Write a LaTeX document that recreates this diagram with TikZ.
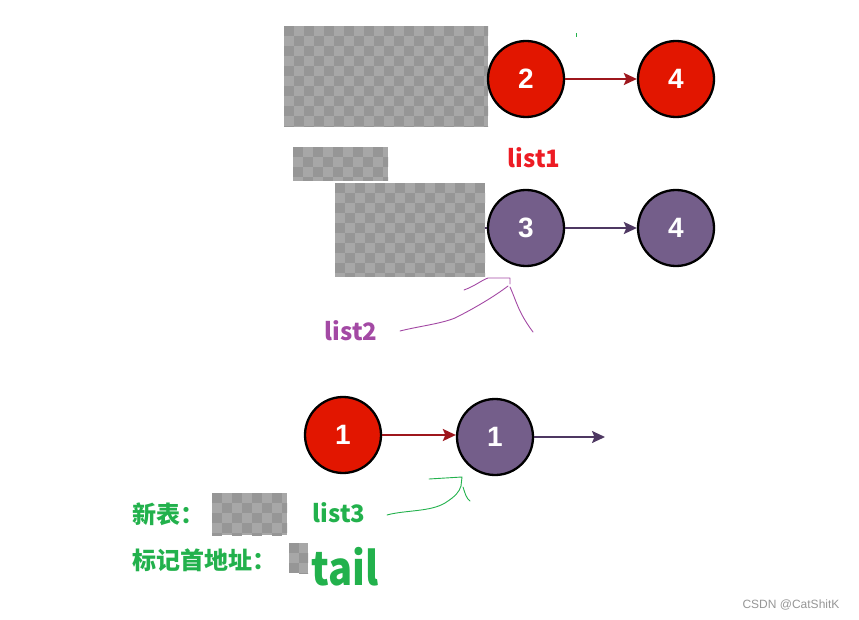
\documentclass[tikz,border=0pt]{standalone}
\usepackage{fontspec}
\usetikzlibrary{arrows.meta}
\newfontfamily\cjk{Noto Sans CJK SC}
\newfontfamily\numf{Liberation Sans}
\definecolor{nodered}{RGB}{226,22,0}
\definecolor{nodepurp}{RGB}{116,94,138}
\definecolor{arrred}{RGB}{158,22,28}
\definecolor{arrpurp}{RGB}{78,56,98}
\definecolor{msred}{RGB}{237,28,36}
\definecolor{mspurp}{RGB}{163,73,164}
\definecolor{msgreen}{RGB}{34,177,76}
\definecolor{chkL}{RGB}{167,167,167}
\definecolor{chkD}{RGB}{150,150,150}
\definecolor{wm}{RGB}{150,150,150}
\newcommand\chkbox[4]{%
  \begin{scope}
    \clip (#1,#2) rectangle (#3,#4);
    \fill[chkL] (#1,#2) rectangle (#3,#4);
    \foreach \i in {0,...,20} {
      \foreach \j in {0,...,10} {
        \pgfmathtruncatemacro\pp{mod(\i+\j,2)}
        \ifnum\pp=0 \fill[chkD] ({#1+10*\i},{#2+10*\j}) rectangle ++(10,10);\fi
      }
    }
  \end{scope}}
\tikzset{
  lnode/.style={circle, draw=black, line width=2.3pt, minimum size=76pt, inner sep=0pt,
    text=white, font=\numf\bfseries\fontsize{28}{28}\selectfont},
  rnode/.style={lnode, fill=nodered},
  pnode/.style={lnode, fill=nodepurp},
  redarr/.style={draw=arrred, line width=2pt, -{Stealth[length=13pt,width=12pt,inset=2.5pt]}},
  purparr/.style={draw=arrpurp, line width=2pt, -{Stealth[length=13pt,width=12pt,inset=2.5pt]}},
  lbl/.style={font=\cjk\bfseries\fontsize{24}{24}\selectfont, inner sep=0pt},
  hand/.style={line width=0.9pt, line cap=round, line join=round},
}
\begin{document}
\begin{tikzpicture}[x=1pt,y=-1pt]
\useasboundingbox (0,0) rectangle (859,620);
% redacted boxes
\chkbox{284}{26}{488}{127}
\chkbox{293}{147}{388}{181}
\chkbox{335}{183}{485}{277}
\chkbox{212}{493}{287}{535}
\chkbox{289}{543}{308}{573}
% list1
\node[rnode] (a2) at (526,79) {2};
\node[rnode] (a4) at (676,79) {4};
\draw[redarr] (a2) -- (a4);
\draw[msgreen, line width=1pt] (576,33) -- (576,37);
\node[lbl, text=msred] (l1) at (534,158) {list1};
% list2
\node[pnode] (b3) at (526,228) {3};
\node[pnode] (b4) at (676,228) {4};
\coordinate (bstub) at (485,228);
\draw[draw=arrpurp, line width=2pt] (bstub) -- (b3);
\draw[purparr] (b3) -- (b4);
\node[lbl, text=mspurp] (l2) at (351,331) {list2};
\draw[hand, mspurp] (464,290) .. controls (475,286) and (482,280) .. (488,278) -- (510,278) -- (510,284);
\draw[hand, mspurp] (400,331) .. controls (420,326) and (440,324) .. (455,318) .. controls (475,308) and (495,296) .. (508,286);
\draw[hand, mspurp] (510,287) .. controls (516,300) and (518,312) .. (533,332);
% list3
\node[rnode] (c1) at (343,435) {1};
\node[pnode] (d1) at (495,437) {1};
\coordinate (dend) at (605,437);
\draw[redarr] (c1) -- (c1 -| d1.west);
\draw[purparr] (d1) -- (dend);
\draw[hand, msgreen] (429,479) -- (462,477) -- (461,486);
\draw[hand, msgreen] (387,515) .. controls (405,510) and (430,512) .. (445,503) .. controls (456,496) and (459,492) .. (461,486);
\draw[hand, msgreen] (463,487) .. controls (465,493) and (466,498) .. (470,501);
\node[lbl, text=msgreen, anchor=base west] (t1) at (132,523) {新表：};
\node[lbl, text=msgreen] (l3) at (339,513) {list3};
\node[lbl, text=msgreen, anchor=base west] (t2) at (132,569) {标记首地址：};
\node[lbl, text=msgreen, anchor=base west, font=\cjk\bfseries\fontsize{40}{40}\selectfont, yscale=1.15] (tail) at (311,585) {tail};
% watermark
\node[font=\numf\fontsize{12}{12}\selectfont, text=wm] (wmk) at (791,605) {CSDN @CatShitK};
\end{tikzpicture}
\end{document}
